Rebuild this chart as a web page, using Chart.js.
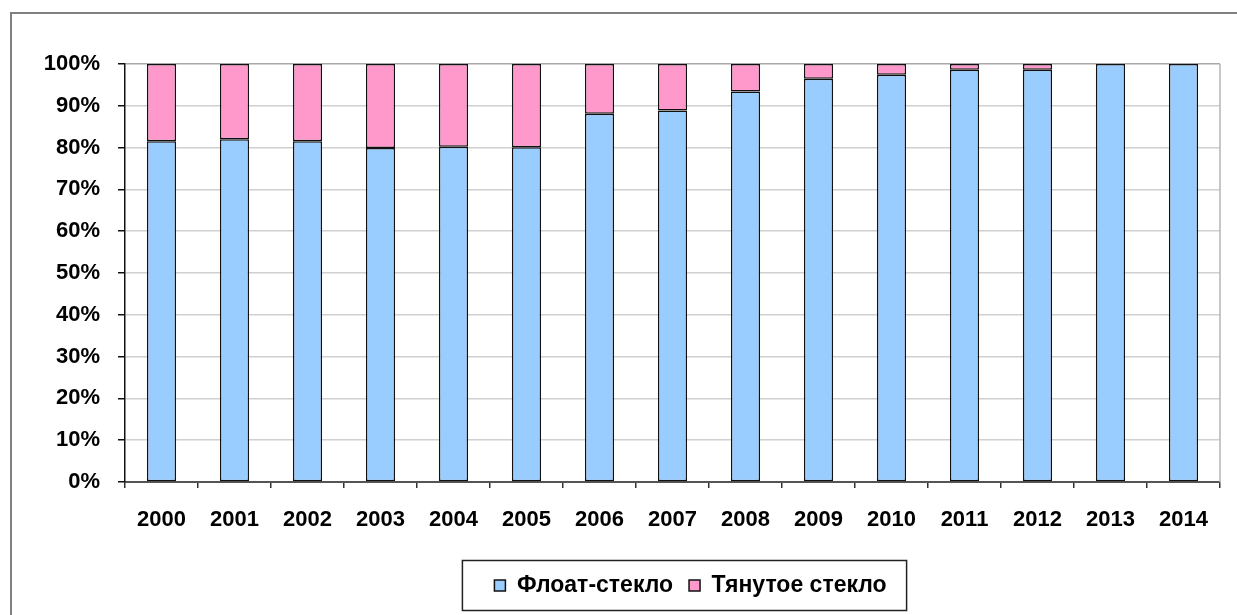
<!DOCTYPE html>
<html>
<head>
<meta charset="utf-8">
<script src="https://cdn.jsdelivr.net/npm/chart.js@4"></script>
<style>
  html, body { margin: 0; padding: 0; background: #fff; }
  #wrap { width: 1237px; height: 615px; }
</style>
</head>
<body>
<div id="wrap"><canvas id="chart" width="1237" height="615"></canvas></div>
<script>
const years = ["2000", "2001", "2002", "2003", "2004", "2005", "2006", "2007",
  "2008", "2009", "2010", "2011", "2012", "2013", "2014"]
const floatGlass = [81.5, 82.0, 81.5, 79.9, 80.2, 80.1, 88.1, 88.9, 93.4, 96.5, 97.4, 98.6, 98.6, 100, 100]
const drawnGlass = [18.5, 18.0, 18.5, 20.1, 19.8, 19.9, 11.9, 11.1, 6.6, 3.5, 2.6, 1.4, 1.4, 0, 0]
const percentTicks = [0, 10, 20, 30, 40, 50, 60, 70, 80, 90, 100]

const COLOR_FLOAT = "#99CCFF"
const COLOR_DRAWN = "#FF99CC"
const COLOR_GRID = "#d0d0d0"
const FONT = { family: "'Liberation Sans', Arial, sans-serif", size: 22, weight: "bold" }

// outer frame, plot border and legend frame
const framePlugin = {
  id: "frames",
  afterLayout(chart) {
    const lg = chart.legend
    if (lg) { lg.left += 18; lg.right += 18 }
  },
  beforeDraw(chart) {
    const ctx = chart.ctx
    ctx.save()
    ctx.strokeStyle = "#808080"
    ctx.lineWidth = 2
    ctx.strokeRect(11, 13, chart.width + 20, chart.height + 20)
    ctx.restore()
  },
  beforeDatasetsDraw(chart) {
    const { ctx, chartArea } = chart
    ctx.save()
    ctx.strokeStyle = "#b4b4b4"
    ctx.lineWidth = 1.5
    ctx.beginPath()
    ctx.moveTo(chartArea.right, chartArea.top)
    ctx.lineTo(chartArea.right, chartArea.bottom)
    ctx.stroke()
    ctx.restore()
  },
  afterDraw(chart) {
    const boxes = chart.legend && chart.legend.legendHitBoxes
    if (!boxes || !boxes.length) return
    const left = Math.min(...boxes.map(b => b.left)) - 32
    const right = Math.max(...boxes.map(b => b.left + b.width)) + 20
    const mid = boxes[0].top + boxes[0].height / 2
    const ctx = chart.ctx
    ctx.save()
    ctx.strokeStyle = "#222"
    ctx.lineWidth = 1.5
    ctx.strokeRect(left, mid - 25, right - left, 50)
    ctx.restore()
  },
}

new Chart(document.getElementById("chart"), {
  type: "bar",
  data: {
    labels: years,
    datasets: [
      {
        label: "Флоат-стекло",
        data: floatGlass,
        backgroundColor: COLOR_FLOAT,
        borderColor: "#111",
        borderWidth: 1.5,
        borderSkipped: false,
        barPercentage: 0.4,
        categoryPercentage: 1,
      },
      {
        label: "Тянутое стекло",
        data: drawnGlass,
        backgroundColor: COLOR_DRAWN,
        borderColor: "#111",
        borderWidth: 1.5,
        borderSkipped: false,
        barPercentage: 0.4,
        categoryPercentage: 1,
      },
    ],
  },
  options: {
    responsive: false,
    animation: false,
    layout: { padding: { left: 0, top: 64, right: 17, bottom: 8 } },
    scales: {
      x: {
        stacked: true,
        afterFit: (s) => { s.height = 76 },
        grid: { drawOnChartArea: false, offset: true, tickLength: 6, tickColor: "#333", lineWidth: 1.5 },
        border: { color: "#555", width: 2 },
        ticks: { color: "#000", font: FONT, padding: 19, maxRotation: 0 },
      },
      y: {
        stacked: true,
        min: 0,
        max: 100,
        afterFit: (s) => { s.width = 125 },
        afterBuildTicks: (s) => { s.ticks = percentTicks.map(v => ({ value: v })) },
        grid: {
          color: (c) => (c.tick && c.tick.value === 100 ? "#a8a8a8" : COLOR_GRID),
          lineWidth: 1.5,
          tickLength: 7,
          tickColor: "#111",
        },
        border: { color: "#111", width: 1.5 },
        ticks: { color: "#000", font: FONT, padding: 18, callback: (v) => v + "%" },
      },
    },
    plugins: {
      legend: {
        position: "bottom",
        fullSize: false,
        labels: {
          boxWidth: 11,
          boxHeight: 11,
          padding: 16,
          color: "#000",
          font: { ...FONT, size: 23, lineHeight: 1 },
        },
      },
      tooltip: { enabled: false },
    },
  },
  plugins: [framePlugin],
})
</script>
</body>
</html>
